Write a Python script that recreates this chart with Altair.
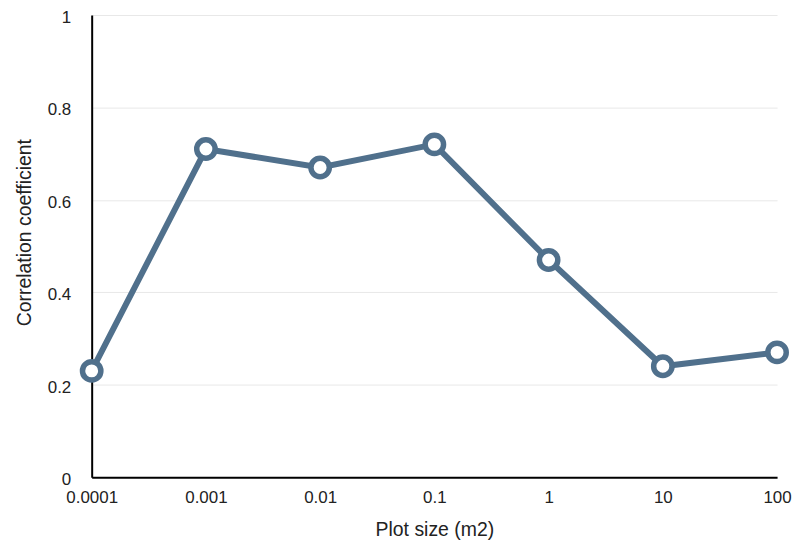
import altair as alt
import pandas as pd

plot_size = [0.0001, 0.001, 0.01, 0.1, 1, 10, 100]
corr = [0.23, 0.71, 0.67, 0.72, 0.47, 0.24, 0.27]
x_ticks = [0.0001, 0.001, 0.01, 0.1, 1, 10, 100]
y_ticks = [0, 0.2, 0.4, 0.6, 0.8, 1]

df = pd.DataFrame({"size": plot_size, "corr": corr})
color = "#50708c"
font = "Liberation Sans"

x = alt.X("size:Q", scale=alt.Scale(type="log", domain=[0.0001, 100], nice=False),
          axis=alt.Axis(values=x_ticks, title="Plot size (m2)", grid=False, ticks=False,
                        labelFlush=False, labelOverlap=False,
                        labelExpr="datum.value >= 1 ? format(datum.value, 'd') : format(datum.value, '~g')",
                        labelPadding=12, titlePadding=15, domainColor="#000", domainWidth=2))
y = alt.Y("corr:Q", scale=alt.Scale(domain=[0, 1], nice=False),
          axis=alt.Axis(values=y_ticks, title="Correlation coefficient", grid=True, ticks=False,
                        gridColor="#e8e8e8", labelPadding=21, titlePadding=13, labelOffset=2.5,
                        titleY=218,
                        labelExpr="format(datum.value, '~g')",
                        domainColor="#000", domainWidth=2))

line = alt.Chart(df).mark_line(color=color, strokeWidth=6, clip=False).encode(x=x, y=y)
pts = alt.Chart(df).mark_point(shape="circle", size=340, filled=True, fill="white",
                                stroke=color, strokeWidth=5.5, opacity=1, clip=False).encode(x=x, y=y)

chart = (line + pts).properties(
    width=688, height=464,
    autosize=alt.AutoSizeParams(type="none"),
    padding={"left": 84, "top": 6, "right": 16, "bottom": 63},
).configure_view(stroke=None).configure_axis(
    labelFont=font, titleFont=font, labelFontSize=17, titleFontSize=19.5,
    labelColor="#222", titleColor="#222", titleFontWeight="normal"
)

chart.save("out.html", embed_options={"renderer": "svg", "actions": False})
